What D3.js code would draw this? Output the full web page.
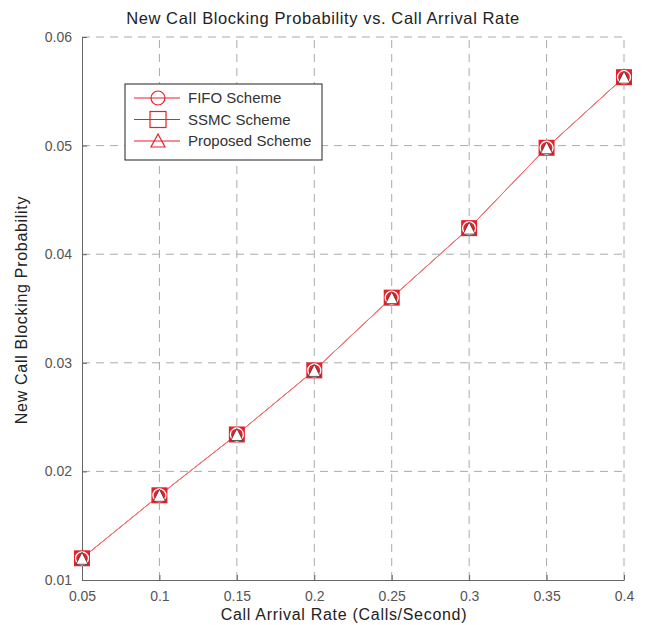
<!DOCTYPE html>
<html>
<head>
<meta charset="utf-8">
<script src="https://cdn.jsdelivr.net/npm/d3@7"></script>
<style>
  body { margin: 0; background: #fff; }
  text { font-family: "Liberation Sans", Arial, sans-serif; }
</style>
</head>
<body>
<div id="chart"></div>
<script>
const arrivalRates = [0.05, 0.1, 0.15, 0.2, 0.25, 0.3, 0.35, 0.4];
const fifo = [0.0120, 0.0178, 0.0234, 0.0293, 0.0360, 0.0424, 0.0498, 0.0563];
const ssmc = [0.0120, 0.0178, 0.0234, 0.0293, 0.0360, 0.0424, 0.0498, 0.0563];
const proposed = [0.0120, 0.0178, 0.0234, 0.0293, 0.0360, 0.0424, 0.0498, 0.0563];
const xTicks = [0.05, 0.1, 0.15, 0.2, 0.25, 0.3, 0.35, 0.4];
const yTicks = [0.01, 0.02, 0.03, 0.04, 0.05, 0.06];
const seriesNames = ["FIFO Scheme", "SSMC Scheme", "Proposed Scheme"];

const width = 646, height = 625;
const margin = { top: 37, right: 22, bottom: 45, left: 82 };
const red = "#e8202a";

const svg = d3.select("#chart").append("svg")
  .attr("width", width).attr("height", height);

const x = d3.scaleLinear().domain([0.05, 0.4]).range([margin.left, width - margin.right]);
const y = d3.scaleLinear().domain([0.01, 0.06]).range([height - margin.bottom, margin.top]);

// grid
svg.append("g").selectAll("line").data(xTicks.slice(1)).join("line")
  .attr("x1", d => x(d)).attr("x2", d => x(d))
  .attr("y1", y(0.01)).attr("y2", y(0.06))
  .attr("stroke", "#aaa").attr("stroke-dasharray", "8,6");
svg.append("g").selectAll("line").data(yTicks.slice(1)).join("line")
  .attr("y1", d => y(d)).attr("y2", d => y(d))
  .attr("x1", x(0.05)).attr("x2", x(0.4))
  .attr("stroke", "#aaa").attr("stroke-dasharray", "8,6");

// axes
const xAxis = svg.append("g")
  .attr("transform", `translate(0,${y(0.01)})`)
  .call(d3.axisBottom(x).tickValues(xTicks).tickFormat(d3.format("")).tickSizeInner(-5).tickSizeOuter(0).tickPadding(11));
const yAxis = svg.append("g")
  .attr("transform", `translate(${x(0.05)},0)`)
  .call(d3.axisLeft(y).tickValues(yTicks).tickFormat(d3.format("")).tickSizeInner(-5).tickSizeOuter(0).tickPadding(10));
[xAxis, yAxis].forEach(a => {
  a.select(".domain").attr("stroke", "#666");
  a.selectAll(".tick line").attr("stroke", "#666");
  a.selectAll(".tick text").attr("fill", "#555").style("font-size", "14px");
});

// line
const line = d3.line().x((d, i) => x(arrivalRates[i])).y(d => y(d));
[fifo, ssmc, proposed].forEach(s => {
  svg.append("path").datum(s).attr("d", line)
    .attr("fill", "none").attr("stroke", "#f07070").attr("stroke-width", 1);
});

function marker(g, kind) {
  if (kind === 0) {
    g.append("circle").attr("r", 7).attr("fill", "none").attr("stroke", red).attr("stroke-width", 1.2);
  } else if (kind === 1) {
    g.append("rect").attr("x", -8).attr("y", -8).attr("width", 16).attr("height", 16)
      .attr("fill", "none").attr("stroke", red).attr("stroke-width", 1.2);
  } else {
    g.append("path").attr("d", "M0,-7L7,6L-7,6Z").attr("fill", "none").attr("stroke", red).attr("stroke-width", 1.2);
  }
}

// point markers (overlapping compound look)
const pts = svg.append("g").selectAll("g").data(arrivalRates).join("g")
  .attr("transform", (d, i) => `translate(${x(d)},${y(proposed[i])})`);
pts.append("rect").attr("x", -8).attr("y", -8).attr("width", 16).attr("height", 16).attr("fill", red);
pts.append("circle").attr("r", 6.5).attr("fill", "none").attr("stroke", "#fff").attr("stroke-width", 1.3);
pts.append("path").attr("d", "M0,-6L6,6L-6,6Z").attr("fill", "#fff").attr("stroke", "#333").attr("stroke-width", 0.8);

// legend
const lg = svg.append("g").attr("transform", "translate(125,84)");
lg.append("rect").attr("width", 197).attr("height", 76).attr("fill", "#fff").attr("stroke", "#222");
seriesNames.forEach((n, i) => {
  const yy = 14 + i * 21.5;
  lg.append("line").attr("x1", 9).attr("x2", 55).attr("y1", yy).attr("y2", yy).attr("stroke", red);
  const m = lg.append("g").attr("transform", `translate(33,${yy})`);
  marker(m, i);
  lg.append("text").attr("x", 63).attr("y", yy).attr("dy", "0.35em")
    .style("font-size", "15px").attr("fill", "#333").text(n);
});

// titles
svg.append("text").attr("x", 323).attr("y", 24)
  .attr("text-anchor", "middle").style("font-size", "16.5px").style("letter-spacing", "0.6px").attr("fill", "#222")
  .text("New Call Blocking Probability vs. Call Arrival Rate");
svg.append("text").attr("x", 344).attr("y", 620)
  .attr("text-anchor", "middle").style("font-size", "16px").style("letter-spacing", "0.7px").attr("fill", "#222")
  .text("Call Arrival Rate (Calls/Second)");
svg.append("text").attr("transform", `translate(27,310) rotate(-90)`)
  .attr("text-anchor", "middle").style("font-size", "16px").style("letter-spacing", "0.7px").attr("fill", "#222")
  .text("New Call Blocking Probability");
</script>
</body>
</html>
